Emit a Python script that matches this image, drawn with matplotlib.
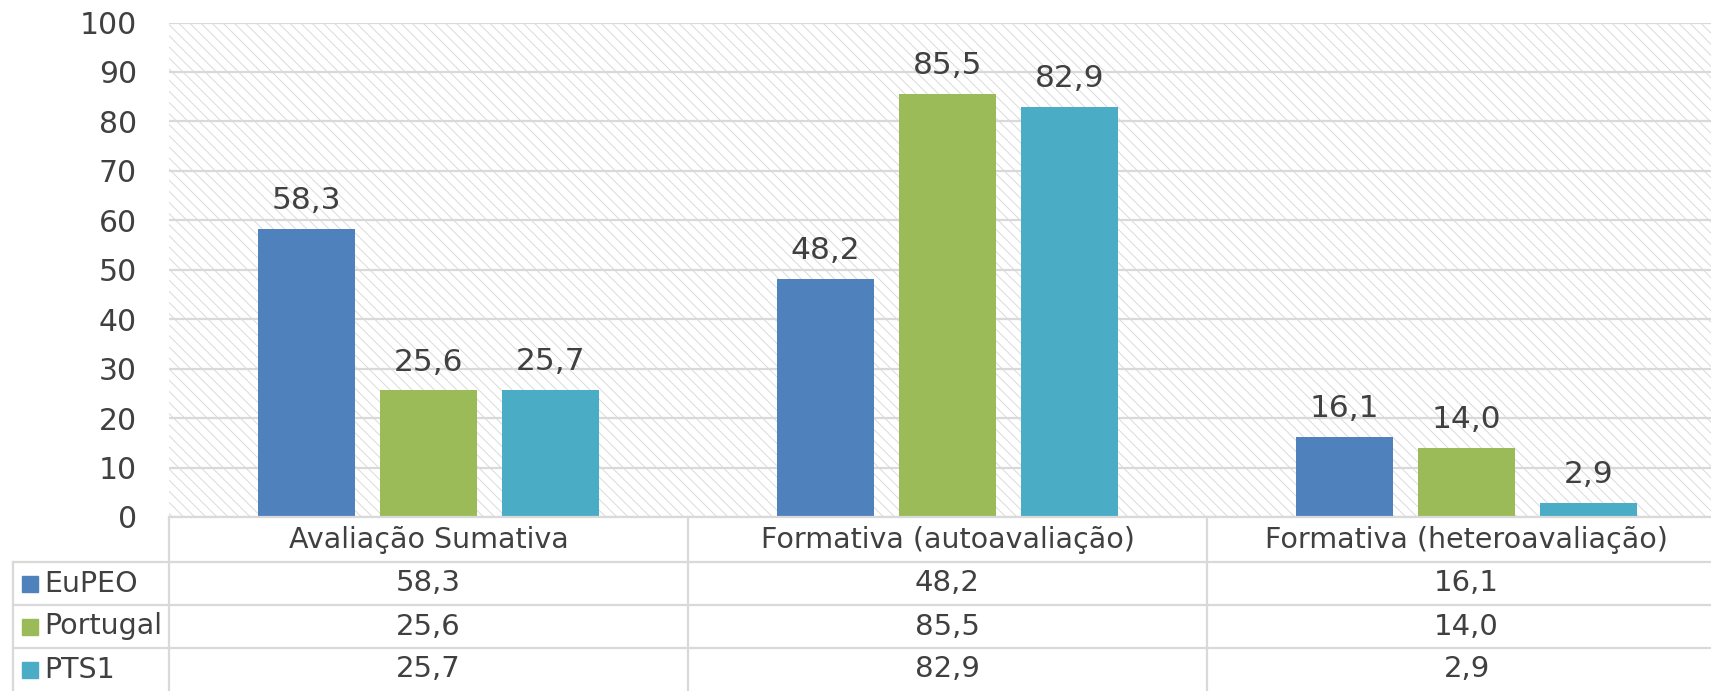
import matplotlib.pyplot as plt
import matplotlib.transforms as mtransforms
from matplotlib.lines import Line2D
from matplotlib.patches import Rectangle
import numpy as np

categorias = ["Avaliação Sumativa", "Formativa (autoavaliação)", "Formativa (heteroavaliação)"]
series = ["EuPEO", "Portugal", "PTS1"]
eupeo = [58.3, 48.2, 16.1]
portugal = [25.6, 85.5, 14.0]
pts1 = [25.7, 82.9, 2.9]
cores = ["#4F81BD", "#9BBB59", "#4BACC6"]

valores = [eupeo, portugal, pts1]
texto = "#404040"
grelha = "#D9D9D9"

W, H = 1711, 691
fig = plt.figure(figsize=(W / 100, H / 100), dpi=100)

# área do gráfico (passa ligeiramente da margem direita, como no original)
ax = fig.add_axes([169 / W, 1 - 517 / H, (1726 - 169) / W, (517 - 22.5) / H])

# fundo tracejado
plt.rcParams['hatch.linewidth'] = 0.7
fundo = Rectangle((0, 0), 1, 1, transform=ax.transAxes, facecolor="white",
                  edgecolor="#DADADA", hatch="\\\\\\", linewidth=0, zorder=0.1)
ax.add_patch(fundo)

x = np.arange(len(categorias))
passo = 0.235
largura = 0.187
for i, (nome, vals) in enumerate(zip(series, valores)):
    barras = ax.bar(x + (i - 1) * passo, vals, largura, color=cores[i], zorder=2)
    for barra, v in zip(barras, vals):
        ax.annotate(f"{v:.1f}".replace(".", ","),
                    (barra.get_x() + barra.get_width() / 2, v),
                    xytext=(0, 10), textcoords="offset points",
                    ha="center", va="bottom", fontsize=22.5, color=texto)

ax.set_xlim(-0.5, 2.5)
ax.set_ylim(0, 100)
ax.set_yticks(range(0, 101, 10))
ax.tick_params(axis="y", length=0, pad=23, labelsize=21.5, labelcolor=texto)
ax.set_xticks([])
ax.yaxis.grid(True, color=grelha, linewidth=1.6, zorder=0.5)
ax.set_axisbelow(True)
for lado in ["left", "right", "top", "bottom"]:
    ax.spines[lado].set_visible(False)

# tabela de dados por baixo do gráfico
trans = mtransforms.blended_transform_factory(ax.transData, fig.transFigure)
def fy(py):
    return 1 - py / H

linhas_y = [517, 562, 605, 648, 691]
lw = 1.6

# linhas horizontais
for k, py in enumerate(linhas_y[:-1]):
    x0 = 13 / W if k > 0 else 169 / W
    fig.add_artist(Line2D([x0, 1], [fy(py), fy(py)], color=grelha, lw=lw))
# linhas verticais
fig.add_artist(Line2D([13 / W, 13 / W], [fy(562), fy(691)], color=grelha, lw=lw))
for xb in [-0.5, 0.5, 1.5]:
    fig.add_artist(Line2D([xb, xb], [fy(517), fy(691)], color=grelha, lw=lw,
                          transform=trans, clip_on=False))

# cabeçalho com as categorias
for xi, cat in zip(x, categorias):
    fig.text(xi, fy(540), cat, transform=trans, ha="center", va="center",
             fontsize=20.5, color=texto)

# linhas da tabela
for i, (nome, vals) in enumerate(zip(series, valores)):
    cy = (linhas_y[i + 1] + linhas_y[i + 2]) / 2
    fig.add_artist(Rectangle((22 / W, fy(cy + 8)), 16 / W, 16 / H,
                             transform=fig.transFigure, color=cores[i]))
    fig.text(44 / W, fy(cy), nome, ha="left", va="center", fontsize=20.5, color=texto)
    for xi, v in zip(x, vals):
        fig.text(xi, fy(cy), f"{v:.1f}".replace(".", ","), transform=trans,
                 ha="center", va="center", fontsize=21, color=texto)

fig.savefig("out.png", dpi=100)
